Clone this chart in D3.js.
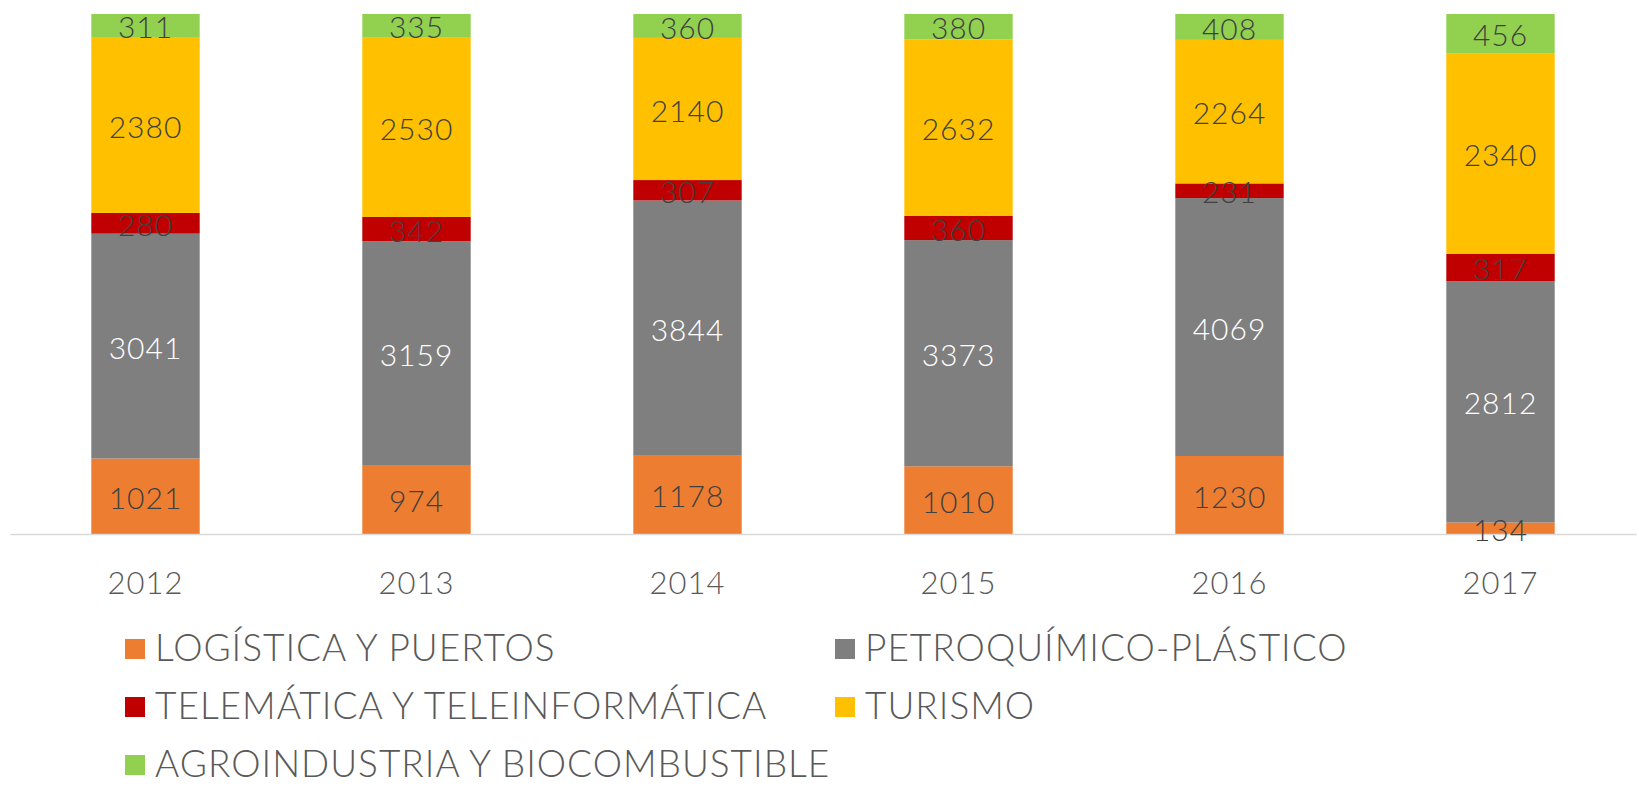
<!DOCTYPE html>
<html>
<head>
<meta charset="utf-8">
<script src="https://cdn.jsdelivr.net/npm/d3@7"></script>
<style>
  body { margin: 0; background: #fff; }
  text { font-family: "Lato", "Open Sans", sans-serif; font-weight: 300; }
</style>
</head>
<body>
<div id="chart-area"></div>
<script>
const years = ["2012", "2013", "2014", "2015", "2016", "2017"];
const seriesNames = ["LOGÍSTICA Y PUERTOS", "PETROQUÍMICO-PLÁSTICO", "TELEMÁTICA Y TELEINFORMÁTICA", "TURISMO", "AGROINDUSTRIA Y BIOCOMBUSTIBLE"];
const logistica = [1021, 974, 1178, 1010, 1230, 134];
const petroquimico = [3041, 3159, 3844, 3373, 4069, 2812];
const telematica = [280, 342, 307, 360, 231, 317];
const turismo = [2380, 2530, 2140, 2632, 2264, 2340];
const agroindustria = [311, 335, 360, 380, 408, 456];
const colors = ["#ED7D31", "#7F7F7F", "#C00000", "#FFC000", "#92D050"];

const WIDTH = 1639, HEIGHT = 787;
const MARGIN = { LEFT: 10, RIGHT: 3, TOP: 14, BOTTOM: 253 }
const innerW = WIDTH - MARGIN.LEFT - MARGIN.RIGHT
const innerH = HEIGHT - MARGIN.TOP - MARGIN.BOTTOM

const allSeries = [logistica, petroquimico, telematica, turismo, agroindustria];
const keys = seriesNames;
const data = years.map((y, i) => {
    const row = { year: y };
    keys.forEach((k, j) => row[k] = allSeries[j][i]);
    return row;
});

// 100% stacked
const stack = d3.stack().keys(keys).offset(d3.stackOffsetExpand);
const stacked = stack(data);

const svg = d3.select("#chart-area").append("svg")
    .attr("width", WIDTH)
    .attr("height", HEIGHT);

const g = svg.append("g")
    .attr("transform", `translate(${MARGIN.LEFT}, ${MARGIN.TOP})`)

const x = d3.scaleBand()
    .domain(years)
    .range([0, innerW])
    .paddingInner(0.6)
    .paddingOuter(0.3);

const y = d3.scaleLinear()
    .domain([0, 1])
    .range([innerH, 0]);

// bars
const layers = g.selectAll("g.layer").data(stacked).enter().append("g")
    .attr("class", "layer")
    .attr("fill", (d, i) => colors[i]);

layers.selectAll("rect").data(d => d).enter().append("rect")
    .attr("x", d => x(d.data.year))
    .attr("y", d => y(d[1]))
    .attr("width", x.bandwidth())
    .attr("height", d => y(d[0]) - y(d[1]));

// axis
const xAxisCall = d3.axisBottom(x).tickSize(0);
const xAxis = g.append("g")
    .attr("transform", `translate(0, ${innerH})`)
    .call(xAxisCall);
xAxis.select(".domain").attr("stroke", "#D9D9D9").attr("stroke-width", 1.5);
xAxis.selectAll("text")
    .attr("y", 60)
    .attr("dy", 0)
    .attr("font-size", "31px")
    .attr("letter-spacing", "1px")
    .attr("fill", "#595959");

// value labels
stacked.forEach((layer, i) => {
    g.selectAll(null).data(layer).enter().append("text")
        .attr("x", d => x(d.data.year) + x.bandwidth() / 2)
        .attr("y", d => (y(d[0]) + y(d[1])) / 2)
        .attr("dy", "0.42em")
        .attr("text-anchor", "middle")
        .attr("font-size", "30px")
        .attr("letter-spacing", "1px")
        .attr("fill", i === 1 ? "#FFFFFF" : "#404040")
        .text(d => d.data[layer.key]);
});

// legend
const legendPos = [
    { x: 125, y: 661 }, { x: 835, y: 661 },
    { x: 125, y: 719 }, { x: 835, y: 719 },
    { x: 125, y: 777 }
];
const legend = svg.selectAll("g.legend").data(seriesNames).enter().append("g")
    .attr("class", "legend")
    .attr("transform", (d, i) => `translate(${legendPos[i].x}, ${legendPos[i].y})`);
legend.append("rect")
    .attr("x", 0)
    .attr("y", -22)
    .attr("width", 20)
    .attr("height", 20)
    .attr("fill", (d, i) => colors[i]);
legend.append("text")
    .attr("x", 30)
    .attr("y", 0)
    .attr("font-size", "37px")
    .attr("letter-spacing", "1px")
    .attr("fill", "#595959")
    .text(d => d);
</script>
</body>
</html>
